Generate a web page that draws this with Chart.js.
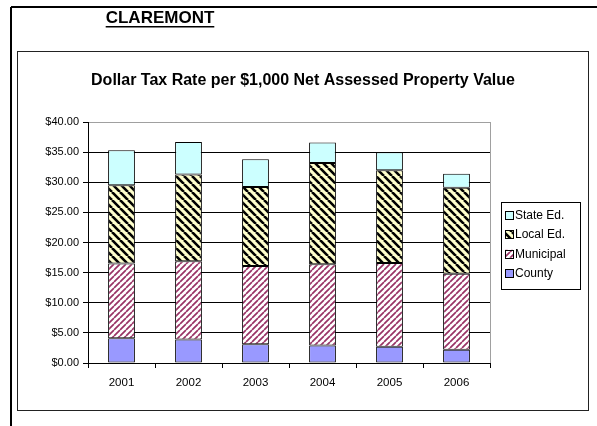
<!DOCTYPE html>
<html>
<head>
<meta charset="utf-8">
<script src="https://cdn.jsdelivr.net/npm/chart.js@4/dist/chart.umd.min.js"></script>
<style>
  html, body { margin: 0; padding: 0; background: #fff; }
  #wrap { position: relative; width: 597px; height: 426px; }
  canvas { display: block; }
</style>
</head>
<body>
<div id="wrap"><canvas id="c" width="597" height="426"></canvas></div>
<script>
// ---- data ----
const pageTitle = "CLAREMONT";
const chartTitle = "Dollar Tax Rate per $1,000 Net Assessed Property Value";
const years = ["2001", "2002", "2003", "2004", "2005", "2006"];
const county    = [4.1, 3.9, 3.1, 2.9, 2.7, 2.2];
const municipal = [12.4, 13.0, 13.0, 13.5, 13.9, 12.6];
const localEd   = [13.0, 14.4, 13.1, 16.8, 15.4, 14.3];
const stateEd   = [5.8, 5.4, 4.6, 3.4, 3.0, 2.3];
const yTicks = [0, 5, 10, 15, 20, 25, 30, 35, 40];

const FONT = "'Liberation Sans', Arial, sans-serif";

function stripePattern(size, bg, fg, lw, dir) {
  const c = document.createElement('canvas');
  c.width = size; c.height = size;
  const g = c.getContext('2d');
  g.fillStyle = bg; g.fillRect(0, 0, size, size);
  g.strokeStyle = fg; g.lineWidth = lw;
  g.beginPath();
  for (let x0 = -size; x0 <= size; x0 += size) {
    if (dir === 'down') { g.moveTo(x0, 0); g.lineTo(x0 + size, size); }
    else { g.moveTo(x0, size); g.lineTo(x0 + size, 0); }
  }
  g.stroke();
  return g.createPattern(c, 'repeat');
}
const ctx = document.getElementById('c').getContext('2d');
const patMunicipal = stripePattern(6, '#ffffff', '#993366', 1.7, 'up');
const patLocal = stripePattern(8, '#ffffcc', '#000000', 2.6, 'down');

const framePlugin = {
  id: 'frame',
  beforeDraw(chart) {
    const g = chart.ctx;
    g.save();
    g.fillStyle = '#fff';
    g.fillRect(0, 0, chart.width, chart.height);
    // outer frame (top and left)
    g.strokeStyle = '#000'; g.lineWidth = 2;
    g.beginPath();
    g.moveTo(11, 7); g.lineTo(597, 7);
    g.moveTo(11, 7); g.lineTo(11, 426);
    g.stroke();
    // inner chart box
    g.strokeStyle = '#222'; g.lineWidth = 1;
    g.strokeRect(17.5, 51.5, 571, 359);
    // page title
    g.fillStyle = '#000';
    g.font = "bold 17px " + FONT;
    g.textAlign = 'center'; g.textBaseline = 'alphabetic';
    g.fillText(pageTitle, 160, 23);
    const w = g.measureText(pageTitle).width;
    g.fillRect(160 - w / 2, 26, w, 1.5);
    // chart title
    g.font = "bold 16px " + FONT;
    g.textBaseline = 'middle';
    g.fillText(chartTitle, 303, 81);
    g.restore();
  },
  beforeDatasetsDraw(chart) {
    const a = chart.chartArea, g = chart.ctx;
    g.save();
    g.strokeStyle = '#a0a0a0'; g.lineWidth = 1;
    g.beginPath();
    g.moveTo(Math.round(a.right) + 0.5, a.top);
    g.lineTo(Math.round(a.right) + 0.5, a.bottom);
    g.stroke();
    g.restore();
  },
  afterDraw(chart) {
    const g = chart.ctx;
    g.save();
    // legend box
    g.strokeStyle = '#000'; g.lineWidth = 1;
    g.strokeRect(501.5, 202.5, 79, 87);
    g.font = "12px " + FONT;
    g.textBaseline = 'middle'; g.textAlign = 'left';
    const ds = chart.data.datasets.slice().reverse();
    ds.forEach((d, i) => {
      const y = 215 + i * 19.4;
      g.fillStyle = d.backgroundColor;
      g.fillRect(505, y - 4, 8, 8);
      g.strokeStyle = '#000';
      g.strokeRect(505.5, Math.round(y - 4) + 0.5, 8, 8);
      g.fillStyle = '#000';
      g.fillText(d.label, 515, y + 0.5);
    });
    g.restore();
  }
};

new Chart(ctx, {
  type: 'bar',
  data: {
    labels: years,
    datasets: [
      { label: 'County', data: county, backgroundColor: '#9999ff' },
      { label: 'Municipal', data: municipal, backgroundColor: patMunicipal },
      { label: 'Local Ed.', data: localEd, backgroundColor: patLocal },
      { label: 'State Ed.', data: stateEd, backgroundColor: '#ccffff' }
    ].map(d => Object.assign(d, {
      borderColor: '#000', borderWidth: 1, borderSkipped: false,
      categoryPercentage: 0.8, barPercentage: 0.5
    }))
  },
  options: {
    responsive: false,
    animation: false,
    devicePixelRatio: 1,
    layout: { padding: { left: 28, right: 107, top: 122, bottom: 23 } },
    plugins: { legend: { display: false }, title: { display: false }, tooltip: { enabled: false } },
    scales: {
      x: {
        stacked: true,
        afterFit(s) { s.height = 40; },
        grid: { offset: true, drawOnChartArea: false, drawTicks: true, tickLength: 5, color: '#000' },
        border: { color: '#000' },
        ticks: { color: '#000', font: { family: FONT, size: 11.5 }, padding: 8, maxRotation: 0 }
      },
      y: {
        stacked: true,
        min: 0, max: 40,
        afterFit(s) { s.width = 60; },
        afterBuildTicks(s) { s.ticks = yTicks.map(v => ({ value: v })); },
        grid: {
          color: c => (c.tick && c.tick.value === 40) ? '#a0a0a0' : '#000',
          tickColor: '#000',
          tickLength: 5
        },
        border: { color: '#000' },
        ticks: {
          color: '#000', font: { family: FONT, size: 11 }, padding: 4,
          callback: v => '$' + Number(v).toFixed(2)
        }
      }
    }
  },
  plugins: [framePlugin]
});
</script>
</body>
</html>
